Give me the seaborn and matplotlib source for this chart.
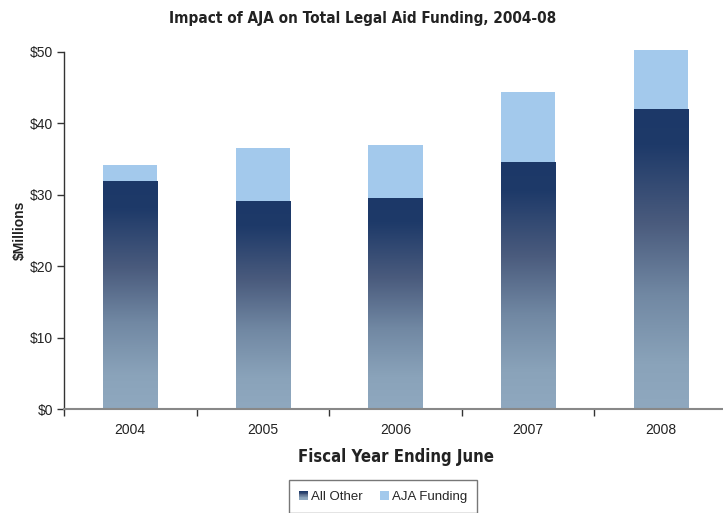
import numpy as np
import pandas as pd
import matplotlib
matplotlib.use('Agg')
import matplotlib.pyplot as plt
import seaborn as sns
from matplotlib.colors import LinearSegmentedColormap
from matplotlib.legend_handler import HandlerBase
from matplotlib.patches import Rectangle

years = ['2004', '2005', '2006', '2007', '2008']
all_other = [31.9, 29.1, 29.6, 34.6, 42.0]
aja_funding = [2.3, 7.5, 7.4, 9.8, 8.3]
yticks = [0, 10, 20, 30, 40, 50]

sns.set_theme(style='white')
plt.rcParams['font.family'] = ['Liberation Sans', 'DejaVu Sans']

grad = LinearSegmentedColormap.from_list('g', [
    (0.0, '#1c3868'), (0.12, '#1e3a69'), (0.38, '#4a5b7d'),
    (0.62, '#7188a3'), (0.85, '#8aa3ba'), (1.0, '#8fa8bf')])

fig = plt.figure(figsize=(7.23, 5.13), dpi=100)
ax = fig.add_axes([64/723, 104/513, 663/723, 357/513])

df = pd.DataFrame({'year': years, 'all_other': all_other, 'aja': aja_funding})
df['total'] = df['all_other'] + df['aja']

sns.barplot(data=df, x='year', y='total', color='#a3c9ec', width=0.41,
            saturation=1, linewidth=0, ax=ax)
n0 = len(ax.patches)
for p in ax.patches[:n0]:
    p.set_clip_on(False)
sns.barplot(data=df, x='year', y='all_other', color='#1d3868', width=0.41,
            saturation=1, linewidth=0, ax=ax)
grad_arr = np.linspace(0, 1, 256).reshape(-1, 1)
for p in ax.patches[n0:]:
    x0, y0 = p.get_x(), p.get_y()
    w, h = p.get_width(), p.get_height()
    im = ax.imshow(grad_arr, cmap=grad, aspect='auto', origin='upper',
                   extent=[x0, x0 + w, y0, y0 + h], zorder=p.get_zorder() + 0.1,
                   interpolation='bilinear')
    im.set_clip_path(p)
    p.set_facecolor('none')

ax.set_xlim(-0.5, 4.5)
ax.set_ylim(0, 50)
ax.set_yticks(yticks)
ax.set_yticklabels([f'${v}' for v in yticks], fontsize=10, color='#222222')
ax.set_xticks(range(len(years)))
ax.set_xticklabels(years, fontsize=10, color='#222222')
ax.set_xticks(np.arange(-0.5, 5.0, 1.0), minor=True)
ax.tick_params(axis='x', which='major', length=0, pad=10)
ax.tick_params(axis='x', which='minor', length=5, width=1, color='#333333', direction='out', bottom=True)
ax.tick_params(axis='y', length=5, width=1, color='#333333', direction='out', left=True, pad=3)
for s in ['top', 'right']:
    ax.spines[s].set_visible(False)
ax.spines['left'].set_color('#333333')
ax.spines['left'].set_linewidth(1)
ax.spines['bottom'].set_color('#888888')
ax.spines['bottom'].set_linewidth(1.5)
ax.set_xlabel('Fiscal Year Ending June', fontsize=12, fontweight='bold',
              family=['DejaVu Sans'], fontstretch='condensed', color='#222222', labelpad=8)
ax.set_ylabel('$Millions', fontsize=10, fontweight='bold', color='#222222', labelpad=2)
fig.text(0.502, 1 - 18/513, 'Impact of AJA on Total Legal Aid Funding, 2004-08',
         ha='center', va='center', fontsize=11, fontweight='bold', color='#222222',
         family=['DejaVu Sans'], fontstretch='condensed')


class GradHandler(HandlerBase):
    def create_artists(self, legend, orig_handle, xdescent, ydescent, width, height, fontsize, trans):
        arts = []
        n = 12
        side = min(width, height)
        x = -xdescent + width - side
        for i in range(n):
            c = grad(i / (n - 1))
            r = Rectangle((x, -ydescent + side * (1 - (i + 1) / n)), side, side / n,
                          facecolor=c, edgecolor='none', transform=trans)
            arts.append(r)
        return arts


class SqHandler(HandlerBase):
    def create_artists(self, legend, orig_handle, xdescent, ydescent, width, height, fontsize, trans):
        side = min(width, height)
        x = -xdescent + width - side
        return [Rectangle((x, -ydescent), side, side, facecolor='#a3c9ec',
                          edgecolor='none', transform=trans)]


h1 = Rectangle((0, 0), 1, 1)
h2 = Rectangle((0, 0), 1, 1)
leg = fig.legend([h1, h2], ['All Other', 'AJA Funding'],
                 handler_map={h1: GradHandler(), h2: SqHandler()},
                 loc='upper center', bbox_to_anchor=(383/723, 1 - 480/513),
                 ncol=2, frameon=True, fancybox=False, fontsize=9.5,
                 handlelength=0.7, handleheight=0.7, handletextpad=0.2,
                 columnspacing=1.3, borderpad=0.8, borderaxespad=0)
leg.get_frame().set_edgecolor('#555555')
leg.get_frame().set_linewidth(1)

fig.savefig('out.png', dpi=100)
